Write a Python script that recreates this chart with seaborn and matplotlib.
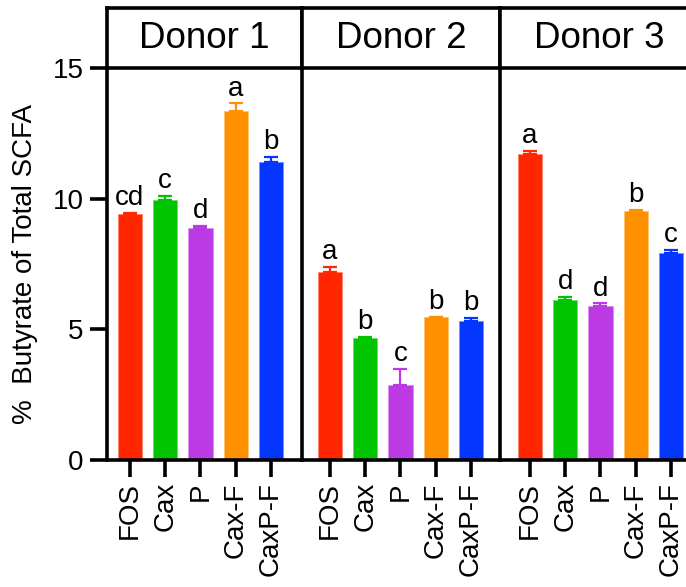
import numpy as np
import pandas as pd
import matplotlib
matplotlib.use("Agg")
import matplotlib.pyplot as plt
import matplotlib.colors as mcolors
import seaborn as sns

sns.set_theme(style="white")
plt.rcParams["font.family"] = ["Liberation Sans", "DejaVu Sans"]

# Treatments and donors
treatments = ["FOS", "Cax", "P", "Cax-F", "CaxP-F"]
donors = ["Donor 1", "Donor 2", "Donor 3"]

# Mean % butyrate of total SCFA per donor (same order as treatments)
donor1_mean = [9.42, 9.93, 8.87, 13.37, 11.39]
donor2_mean = [7.18, 4.68, 2.87, 5.46, 5.33]
donor3_mean = [11.70, 6.14, 5.90, 9.52, 7.93]

# Upper error (SEM) per bar
donor1_err = [0.05, 0.19, 0.08, 0.28, 0.21]
donor2_err = [0.21, 0.03, 0.61, 0.03, 0.12]
donor3_err = [0.12, 0.11, 0.09, 0.06, 0.12]

# Significance letters
donor1_letters = ["cd", "c", "d", "a", "b"]
donor2_letters = ["a", "b", "c", "b", "b"]
donor3_letters = ["a", "d", "d", "b", "c"]

palette = ["#FF2600", "#00C400", "#BC3AE4", "#FF9100", "#0536FF"]

means = [donor1_mean, donor2_mean, donor3_mean]
errs = [donor1_err, donor2_err, donor3_err]
letters = [donor1_letters, donor2_letters, donor3_letters]

W, H = 686, 587
fig = plt.figure(figsize=(W / 100, H / 100), dpi=100)

# panel geometry in pixels: (left, right) and x-limits
panels = [(107, 302, (-0.652, 4.880)),
          (302, 500, (-0.794, 4.823)),
          (500, 698, (-0.851, 4.766))]
y_bottom, y_top, head_top = 460, 68, 8

LW = 2.6
for i, (x0, x1, xl) in enumerate(panels):
    ax = fig.add_axes([x0 / W, (H - y_bottom) / H, (x1 - x0) / W, (y_bottom - y_top) / H])
    df = pd.DataFrame({"treatment": treatments, "value": means[i]})
    sns.barplot(data=df, x="treatment", y="value", hue="treatment",
                palette=palette, width=0.69, errorbar=None, legend=False,
                ax=ax, saturation=1)
    for bar, c in zip(ax.patches, palette):
        bar.set_edgecolor(mcolors.to_hex(0.55 * np.array(mcolors.to_rgb(c)) + 0.45))
        bar.set_linewidth(0.7)
    for j, bar in enumerate(ax.patches):
        xc = bar.get_x() + bar.get_width() / 2
        m, e = means[i][j], errs[i][j]
        ax.errorbar([xc], [m], yerr=[[0], [e]], fmt="none", ecolor=palette[j],
                    elinewidth=1.6, capsize=5, capthick=1.6, zorder=1)
        ax.annotate(letters[i][j], (xc, m + e), xytext=(0, 5.5),
                    textcoords="offset points", ha="center", va="baseline",
                    fontsize=20, color="black")
    ax.set_xlim(*xl)
    ax.set_ylim(0, 15)
    ax.set_xlabel("")
    ax.set_ylabel("")
    for s in ["top", "right"]:
        ax.spines[s].set_visible(False)
    for s in ["left", "bottom"]:
        ax.spines[s].set_linewidth(LW)
        ax.spines[s].set_color("black")
    ax.tick_params(axis="x", which="major", bottom=True, length=12, width=LW,
                   color="black", pad=4, labelsize=20, labelcolor="black")
    ax.set_xticks(range(len(treatments)))
    ax.set_xticklabels(treatments, rotation=90)
    if i == 0:
        ax.set_yticks([0, 5, 10, 15])
        ax.tick_params(axis="y", left=True, length=12, width=LW, color="black",
                       pad=5, labelsize=20, labelcolor="black")
        ax.set_ylabel("%  Butyrate of Total SCFA", fontsize=20, color="black",
                      labelpad=10)
    else:
        ax.set_yticks([])
    ax.set_facecolor("none")

    hax = fig.add_axes([x0 / W, (H - y_top) / H, (x1 - x0) / W, (y_top - head_top) / H])
    hax.set_xticks([])
    hax.set_yticks([])
    for s in hax.spines.values():
        s.set_linewidth(LW)
        s.set_color("black")
    hax.text(0.5, 0.5, donors[i], transform=hax.transAxes, ha="center",
             va="center", fontsize=26.5, color="black")

fig.savefig("out.png", dpi=100)
